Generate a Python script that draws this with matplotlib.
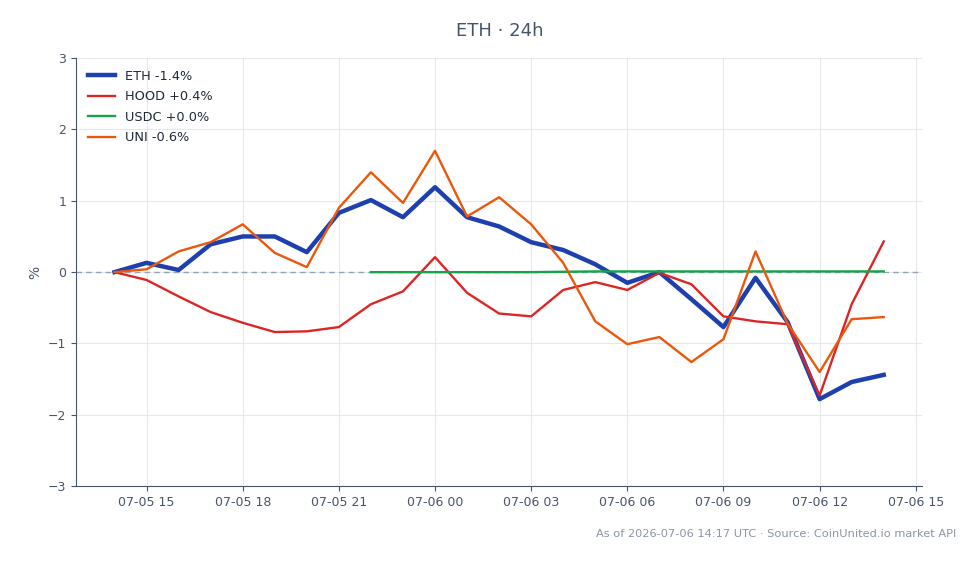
import numpy as np
import pandas as pd
import matplotlib
matplotlib.use("Agg")
import matplotlib.pyplot as plt
import matplotlib.dates as mdates

# hourly % change over the last 24h
times = pd.date_range("2026-07-05 14:00", "2026-07-06 14:00", freq="h")

eth = [0.00, 0.13, 0.03, 0.39, 0.50, 0.50, 0.28, 0.83, 1.01, 0.77, 1.19, 0.77, 0.64,
       0.42, 0.31, 0.11, -0.15, 0.00, -0.38, -0.77, -0.08, -0.70, -1.78, -1.54, -1.44]
hood = [0.00, -0.11, -0.34, -0.56, -0.71, -0.84, -0.83, -0.77, -0.45, -0.27, 0.21, -0.29, -0.58,
        -0.62, -0.25, -0.14, -0.25, -0.01, -0.17, -0.62, -0.69, -0.73, -1.73, -0.45, 0.43]
# USDC only has data from 22:00 onward
usdc = [np.nan] * 8 + [0.00, 0.00, 0.00, 0.00, 0.00, 0.00, 0.005, 0.01, 0.01,
                       0.01, 0.01, 0.01, 0.01, 0.01, 0.01, 0.01, 0.01]
uni = [0.00, 0.04, 0.29, 0.42, 0.67, 0.27, 0.07, 0.90, 1.40, 0.97, 1.70, 0.78, 1.05,
       0.67, 0.13, -0.69, -1.01, -0.91, -1.26, -0.94, 0.29, -0.72, -1.40, -0.66, -0.63]

labels = ["ETH -1.4%", "HOOD +0.4%", "USDC +0.0%", "UNI -0.6%"]
colors = ["#1e40af", "#dc2626", "#16a34a", "#ea580c"]
widths = [3.2, 1.7, 1.7, 1.7]

text_col = "#475569"
spine_col = "#475569"

fig = plt.figure(figsize=(9.8, 5.64), dpi=100)
ax = fig.add_axes([0.0776, 0.138, 0.8634, 0.759])

for series, lab, c, lw in zip([eth, hood, usdc, uni], labels, colors, widths):
    ax.plot(times, series, color=c, lw=lw, label=lab, zorder=3)

ax.axhline(0, color="#94a3b8", lw=1, ls=(0, (4, 3)), zorder=2)

ax.set_ylim(-3, 3)
ax.set_yticks(range(-3, 4))
ax.set_ylabel("%", color=text_col, fontsize=10)

ax.xaxis.set_major_locator(mdates.HourLocator(byhour=range(0, 24, 3)))
ax.xaxis.set_major_formatter(mdates.DateFormatter("%m-%d %H"))

ax.grid(True, color="#e5e7eb", lw=0.8)
ax.set_axisbelow(True)
for s in ["top", "right"]:
    ax.spines[s].set_visible(False)
for s in ["left", "bottom"]:
    ax.spines[s].set_color(spine_col)
ax.tick_params(colors=spine_col, labelcolor=text_col, labelsize=9)

ax.legend(loc="upper left", frameon=False, fontsize=9.3, handlelength=2.1,
          labelspacing=0.58, labelcolor="#1f2937")

fig.text(0.51, 0.945, "ETH · 24h", ha="center", va="center", fontsize=13, color=text_col)
fig.text(0.976, 0.053, "As of 2026-07-06 14:17 UTC · Source: CoinUnited.io market API",
         ha="right", va="center", fontsize=8.2, color="#8b95a3")

fig.savefig("out.png", dpi=100)
